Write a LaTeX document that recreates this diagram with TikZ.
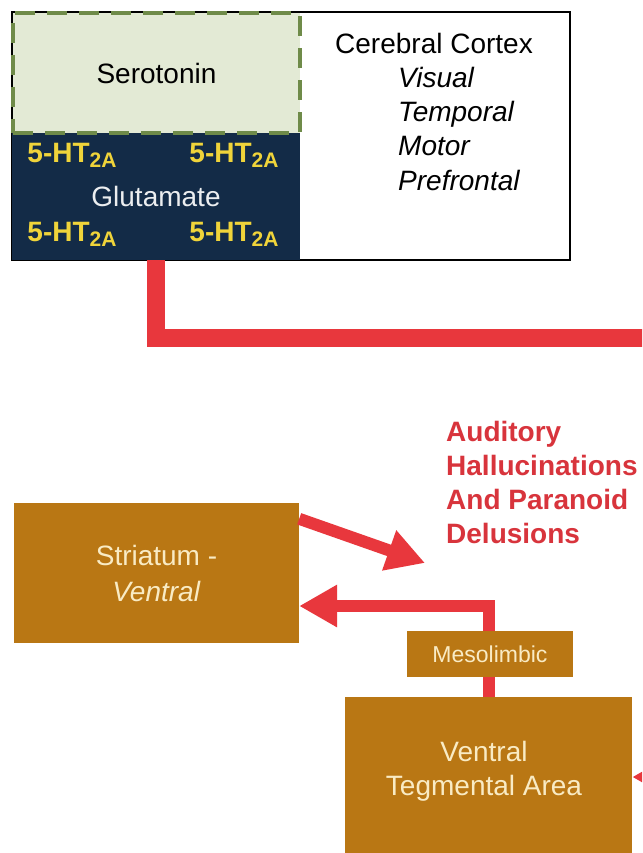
\documentclass[tikz,border=0pt]{standalone}
\usepackage{fontspec}
\setmainfont{Liberation Sans}
\usetikzlibrary{arrows.meta,positioning}
\definecolor{serofill}{HTML}{E3EAD5}
\definecolor{serodash}{HTML}{6F8B49}
\definecolor{glunavy}{HTML}{132B47}
\definecolor{htyellow}{HTML}{F0D43A}
\definecolor{pathred}{HTML}{E8373D}
\definecolor{textred}{HTML}{D8343C}
\definecolor{boxbrown}{HTML}{B97714}
\definecolor{boxtext}{HTML}{F9EBC4}
\newcommand{\httwoa}{5-HT\raisebox{-5pt}{\fontsize{21}{21}\selectfont 2A}}

\begin{document}
\begin{tikzpicture}[x=1pt,y=-1pt,
  big/.style={font=\fontsize{28}{35}\selectfont},
  bigit/.style={font=\fontsize{28}{34}\selectfont\itshape},
  brownbox/.style={fill=boxbrown, text=boxtext, inner sep=0pt, align=center, big},
  htlabel/.style={text=htyellow, font=\fontsize{28}{34}\selectfont\bfseries, inner sep=0pt, anchor=base},
  redpath/.style={draw=pathred, line width=12pt},
  redhead/.style={-{Triangle[length=38pt,width=40pt]}}]
\fill[white] (0,0) rectangle (642,853);
\useasboundingbox (0,0) rectangle (642,853);
\clip (0,0) rectangle (642,853);

\node[draw=black, line width=2pt, minimum width=558pt, minimum height=248pt, inner sep=0pt] (cortex) at (291,136) {};
\node[fill=glunavy, text=white!92!glunavy, minimum width=288pt, minimum height=127pt, inner sep=0pt, big] (glu) at (156,196.5) {Glutamate};
\node[fill=serofill, draw=serodash, line width=4pt, dash pattern=on 20pt off 12pt, minimum width=287pt, minimum height=120pt, inner sep=0pt, big] (sero) at (156.5,73) {Serotonin};
\node[htlabel] (ht1) at (72,163) {\httwoa};
\node[htlabel] (ht2) at (234,163) {\httwoa};
\node[htlabel] (ht3) at (72,241) {\httwoa};
\node[htlabel] (ht4) at (234,241) {\httwoa};
\node[big, anchor=base, inner sep=0pt] (cctitle) at (434,54) {Cerebral Cortex};
\foreach \area [count=\i] in {Visual,Temporal,Motor,Prefrontal}
  \node[bigit, anchor=base west, inner sep=0pt] (area\i) at (398,54+34*\i) {\area};

\coordinate (offright) at (700,338);
\draw[draw=pathred, line width=18pt] (glu.south) |- (offright);

\node[anchor=north west, align=left, inner sep=0pt, text=textred, font=\fontsize{28}{34}\selectfont\bfseries] (symptoms) at (446,421) {Auditory\\Hallucinations\\And Paranoid\\Delusions};

\node[brownbox, minimum width=285pt, minimum height=140pt, font=\fontsize{28}{36}\selectfont] (stria) at (156.5,573) {Striatum -\\\textit{Ventral}};
\node[brownbox, minimum width=287pt, minimum height=200pt, anchor=north] (vta) at (488.5,697) {};
\node[brownbox, fill=none, font=\fontsize{28}{34}\selectfont] (vtatext) at (484,771) {Ventral\\Tegmental Area};

\coordinate (hallu) at (425,563);
\draw[redpath, redhead] ([yshift=-16pt]stria.north east) -- (hallu);
\coordinate (turn) at (489,606);
\draw[redpath, redhead] (vta.north -| turn) -- (turn) -- (stria.east |- turn);
\coordinate (offvta) at (700,777);
\draw[redpath, redhead] (offvta) -- (vta.east |- offvta);

\node[brownbox, minimum width=166pt, minimum height=46pt, font=\fontsize{23}{26}\selectfont] (meso) at (490,654) {Mesolimbic};
\end{tikzpicture}
\end{document}
